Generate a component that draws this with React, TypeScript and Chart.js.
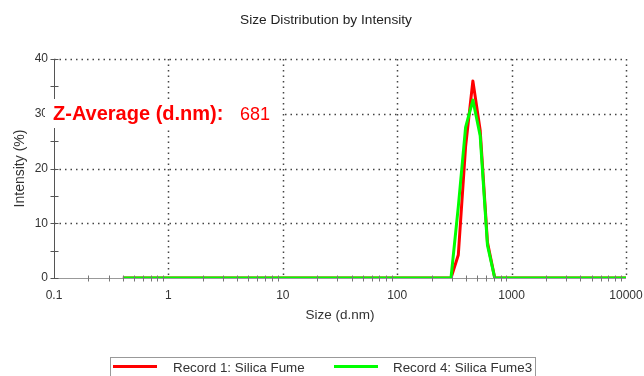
import React, { useEffect, useRef } from "react";
import { Chart, registerables } from "chart.js";
Chart.register(...registerables);

const sizes = [0.4, 0.4632, 0.5365, 0.6213, 0.7195, 0.8332, 0.9649, 1.117, 1.294, 1.499, 1.736, 2.01, 2.328, 2.696, 3.122, 3.615, 4.187, 4.849, 5.615, 6.503, 7.531, 8.721, 10.1, 11.7, 13.54, 15.69, 18.17, 21.04, 24.36, 28.21, 32.67, 37.84, 43.82, 50.75, 58.77, 68.06, 78.82, 91.28, 105.7, 122.4, 141.8, 164.2, 190.1, 220.2, 255.0, 295.3, 342.0, 396.1, 458.7, 531.2, 615.1, 712.4, 825.0, 955.4, 1106, 1281, 1484, 1718, 1990, 2305, 2669, 3091, 3580, 4145, 4801, 5560, 6439, 7456, 8635, 10000];

const record1 = [0, 0, 0, 0, 0, 0, 0, 0, 0, 0, 0, 0, 0, 0, 0, 0, 0, 0, 0, 0, 0, 0, 0, 0, 0, 0, 0, 0, 0, 0, 0, 0, 0, 0, 0, 0, 0, 0, 0, 0, 0, 0, 0, 0, 0, 0, 4.2, 24, 36, 27, 6.5, 0, 0, 0, 0, 0, 0, 0, 0, 0, 0, 0, 0, 0, 0, 0, 0, 0, 0, 0];
const record4 = [0, 0, 0, 0, 0, 0, 0, 0, 0, 0, 0, 0, 0, 0, 0, 0, 0, 0, 0, 0, 0, 0, 0, 0, 0, 0, 0, 0, 0, 0, 0, 0, 0, 0, 0, 0, 0, 0, 0, 0, 0, 0, 0, 0, 0, 0, 13, 27.5, 32.5, 26, 6, 0, 0, 0, 0, 0, 0, 0, 0, 0, 0, 0, 0, 0, 0, 0, 0, 0, 0, 0];

const seriesNames = ["Record 1: Silica Fume", "Record 4: Silica Fume3"];
const xTicks = [0.1, 1, 10, 100, 1000, 10000];
const yTicks = [0, 10, 20, 30, 40];
const yMinorTicks = [0, 5, 10, 15, 20, 25, 30, 35, 40];
const xMinorTicks = [0.2, 0.3, 0.4, 0.5, 0.6, 0.7, 0.8, 0.9, 2, 3, 4, 5, 6, 7, 8, 9, 20, 30, 40, 50, 60, 70, 80, 90, 200, 300, 400, 500, 600, 700, 800, 900, 2000, 3000, 4000, 5000, 6000, 7000, 8000, 9000];
const chartTitle = "Size Distribution by Intensity";
const zLabel = "Z-Average (d.nm):";
const zValue = "681";

const FONT = "'Liberation Sans', Arial, sans-serif";
const TXT = "#333333";

const decorPlugin = {
  id: "decor",
  beforeDatasetsDraw(chart: any) {
    const { ctx, chartArea: a, scales } = chart;
    const x = scales.x, y = scales.y;
    ctx.save();
    ctx.setLineDash([1.5, 4]);
    ctx.lineWidth = 1.5;
    ctx.strokeStyle = "#444444";
    for (const v of yTicks) {
      if (v === 0) continue;
      const py = Math.round(y.getPixelForValue(v)) + 0.5;
      ctx.beginPath();
      ctx.moveTo(a.left, py);
      ctx.lineTo(a.right, py);
      ctx.stroke();
    }
    for (const v of xTicks) {
      if (v === 0.1) continue;
      const px = Math.round(x.getPixelForValue(v)) + 0.5;
      ctx.beginPath();
      ctx.moveTo(px, a.top);
      ctx.lineTo(px, a.bottom);
      ctx.stroke();
    }
    ctx.setLineDash([]);
    ctx.lineWidth = 1;
    ctx.strokeStyle = "#999999";
    const by = Math.round(a.bottom) + 0.5;
    ctx.beginPath();
    ctx.moveTo(a.left, by);
    ctx.lineTo(a.right, by);
    ctx.stroke();
    ctx.strokeStyle = "#555555";
    const lx = Math.round(a.left) + 0.5;
    ctx.beginPath();
    ctx.moveTo(lx, a.top);
    ctx.lineTo(lx, a.bottom);
    ctx.stroke();
    ctx.restore();
  },
  afterDatasetsDraw(chart: any) {
    const { ctx, chartArea: a, scales } = chart;
    const x = scales.x, y = scales.y;
    ctx.save();
    ctx.lineWidth = 1;
    ctx.strokeStyle = "#777777";
    const by = Math.round(a.bottom) + 0.5;
    for (const v of xMinorTicks) {
      const px = Math.round(x.getPixelForValue(v)) + 0.5;
      ctx.beginPath();
      ctx.moveTo(px, by - 3);
      ctx.lineTo(px, by + 3);
      ctx.stroke();
    }
    const lx = Math.round(a.left) + 0.5;
    ctx.strokeStyle = "#555555";
    for (const v of yMinorTicks) {
      const py = Math.round(y.getPixelForValue(v)) + 0.5;
      ctx.beginPath();
      ctx.moveTo(lx - 4, py);
      ctx.lineTo(lx + 4, py);
      ctx.stroke();
    }
    ctx.fillStyle = "#222222";
    ctx.font = `13.7px ${FONT}`;
    ctx.textAlign = "center";
    ctx.textBaseline = "middle";
    ctx.fillText(chartTitle, 326, 20);
    ctx.fillStyle = "#ffffff";
    ctx.fillRect(45, 99, 236, 29);
    ctx.fillStyle = "#ff0000";
    ctx.textAlign = "left";
    ctx.textBaseline = "alphabetic";
    ctx.font = `bold 20px ${FONT}`;
    ctx.fillText(zLabel, 53, 120);
    ctx.font = `18px ${FONT}`;
    ctx.fillText(zValue, 240, 120);
    ctx.strokeStyle = "#999999";
    ctx.lineWidth = 1;
    ctx.strokeRect(110.5, 357.5, 425, 30);
    ctx.lineWidth = 3;
    ctx.strokeStyle = "#ff0000";
    ctx.beginPath();
    ctx.moveTo(113, 366.5);
    ctx.lineTo(157, 366.5);
    ctx.stroke();
    ctx.strokeStyle = "#00ff00";
    ctx.beginPath();
    ctx.moveTo(334, 366.5);
    ctx.lineTo(378, 366.5);
    ctx.stroke();
    ctx.fillStyle = TXT;
    ctx.font = `13.4px ${FONT}`;
    ctx.textBaseline = "middle";
    ctx.fillText(seriesNames[0], 173, 368);
    ctx.fillText(seriesNames[1], 393, 368);
    ctx.restore();
  },
};

export default function App() {
  const ref = useRef<HTMLCanvasElement>(null);
  useEffect(() => {
    document.body.style.margin = "0";
    const c = ref.current!;
    const chart = new Chart(c, {
      type: "line",
      data: {
        datasets: [
          {
            label: seriesNames[0],
            data: sizes.map((s, i) => ({ x: s, y: record1[i] })),
            borderColor: "#ff0000",
            borderWidth: 3,
            borderJoinStyle: "round",
            pointRadius: 0,
            tension: 0,
            order: 1,
          },
          {
            label: seriesNames[1],
            data: sizes.map((s, i) => ({ x: s, y: record4[i] })),
            borderColor: "#00ff00",
            borderWidth: 3,
            borderJoinStyle: "round",
            pointRadius: 0,
            tension: 0,
            order: 0,
          },
        ],
      },
      options: {
        responsive: false,
        animation: false,
        events: [],
        layout: { padding: { left: 0, right: 18, top: 59, bottom: 50 } },
        plugins: { legend: { display: false }, title: { display: false }, tooltip: { enabled: false } },
        scales: {
          x: {
            type: "logarithmic",
            min: 0.1,
            max: 10000,
            afterBuildTicks: (s: any) => {
              s.ticks = xTicks.map((v) => ({ value: v }));
            },
            afterFit: (s: any) => {
              s.height = 48;
              s.paddingLeft = 0;
              s.paddingRight = 0;
            },
            ticks: {
              callback: (v: any) => String(v),
              font: { family: FONT, size: 12 },
              color: TXT,
              padding: 10,
              maxRotation: 0,
              autoSkip: false,
            },
            grid: { display: false, drawTicks: false },
            border: { display: false },
            title: {
              display: true,
              text: "Size (d.nm)",
              font: { family: FONT, size: 13.5 },
              color: TXT,
              padding: { top: 4, bottom: 3 },
            },
          },
          y: {
            min: 0,
            max: 40,
            afterBuildTicks: (s: any) => {
              s.ticks = yTicks.map((v) => ({ value: v }));
            },
            afterFit: (s: any) => {
              s.width = 54;
              s.paddingTop = 0;
              s.paddingBottom = 0;
            },
            ticks: {
              font: { family: FONT, size: 12 },
              color: TXT,
              padding: 6,
            },
            grid: { display: false, drawTicks: false },
            border: { display: false },
            title: {
              display: true,
              text: "Intensity (%)",
              font: { family: FONT, size: 14 },
              color: TXT,
              padding: { top: 12, bottom: 4 },
            },
          },
        },
      },
      plugins: [decorPlugin],
    } as any);
    return () => chart.destroy();
  }, []);
  return <canvas ref={ref} width={644} height={376} style={{ display: "block" }} />;
}
